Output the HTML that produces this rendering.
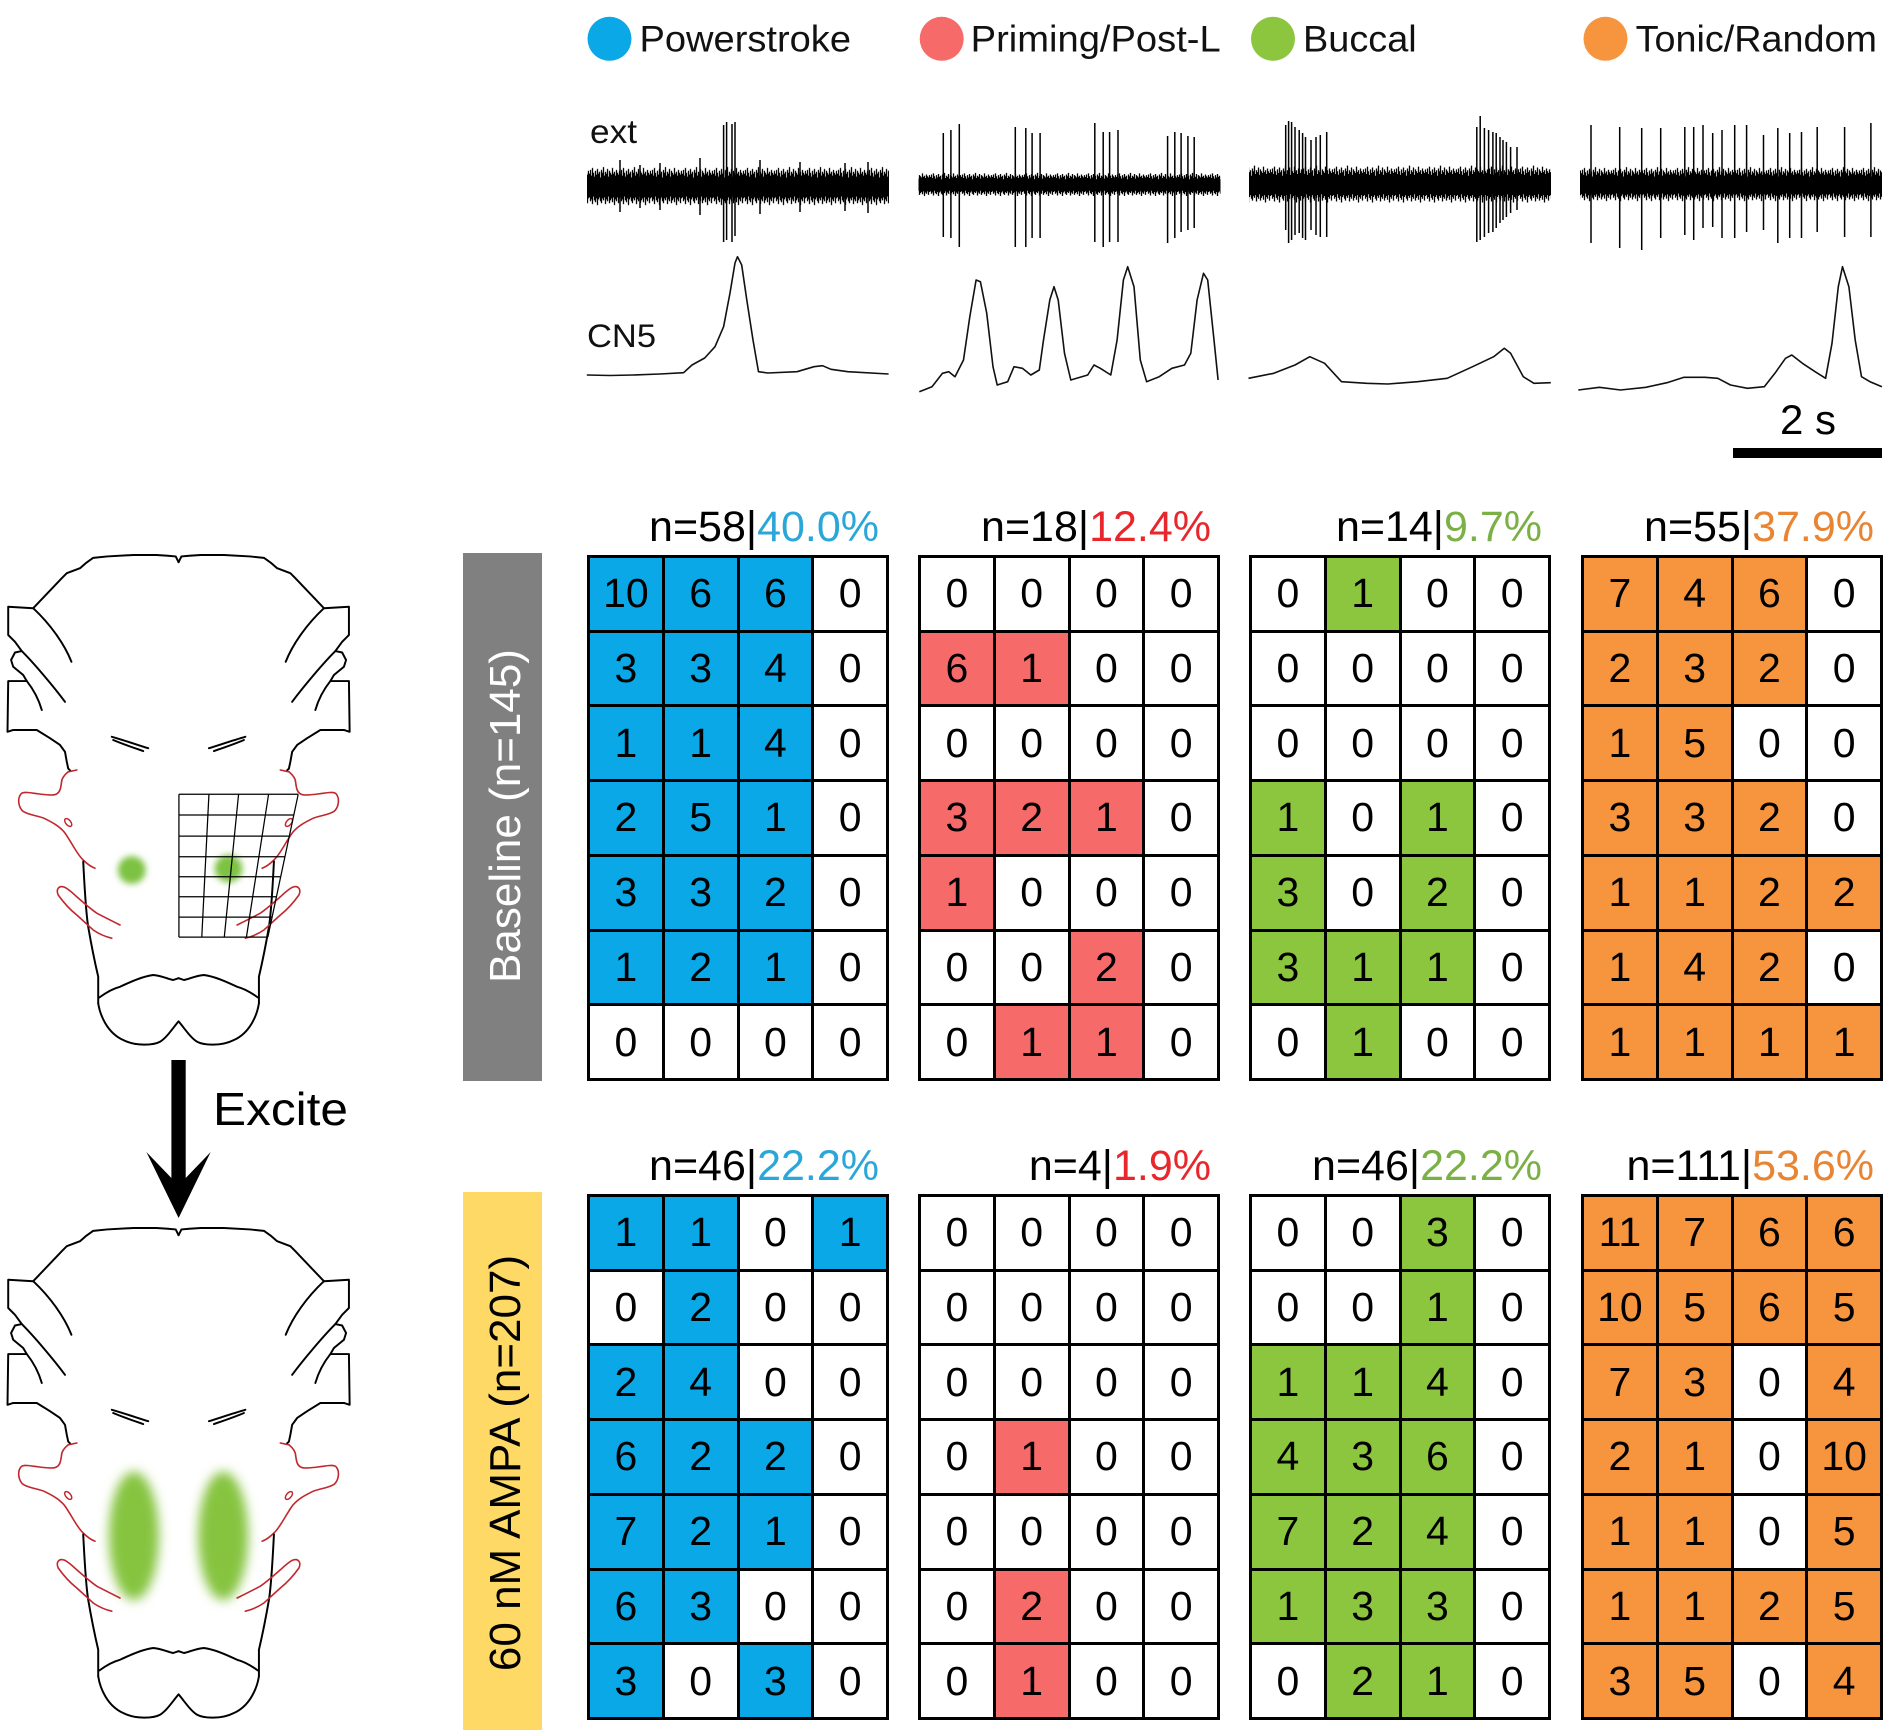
<!DOCTYPE html>
<html><head><meta charset="utf-8">
<style>
html,body{margin:0;padding:0;background:#fff}
body{width:1903px;height:1730px;position:relative;overflow:hidden;font-family:"Liberation Sans",Arial,sans-serif}
svg{position:absolute;left:0;top:0}
.t{position:absolute;width:302px;height:526px;background:#000;padding:3px;box-sizing:border-box;display:grid;grid-template-columns:repeat(4,1fr);grid-template-rows:repeat(7,1fr);gap:3px}
.t div{background:#fff;display:flex;align-items:center;justify-content:center;font:41px/1 "Liberation Sans",Arial,sans-serif;color:#000}
.t .B{background:#0aa8e6}.t .R{background:#f66a6a}.t .G{background:#8cc63f}.t .O{background:#f7953f}
</style></head><body>
<svg width="1903" height="1730" viewBox="0 0 1903 1730" xmlns="http://www.w3.org/2000/svg">
<defs>
<pattern id="nz" width="31" height="50" patternUnits="userSpaceOnUse">
<path d="M0.5 11V36M1.5 7V40M2.5 13V38M3.5 5V43M4.5 10V35M5.5 14V39M6.5 8V41M7.5 12V37M8.5 6V44M9.5 11V38M10.5 9V36M11.5 15V40M12.5 7V42M13.5 10V37M14.5 4V39M15.5 13V36M16.5 9V43M17.5 11V38M18.5 6V40M19.5 14V35M20.5 8V42M21.5 10V39M22.5 12V37M23.5 5V41M24.5 11V36M25.5 9V44M26.5 13V38M27.5 7V40M28.5 10V36M29.5 12V42M30.5 8V37" stroke="#000" stroke-width="1.3"/>
</pattern>
<filter id="bl1" x="-50%" y="-50%" width="200%" height="200%"><feGaussianBlur stdDeviation="9"/></filter>
<filter id="bl2" x="-50%" y="-50%" width="200%" height="200%"><feGaussianBlur stdDeviation="16"/></filter>
<g id="lh" fill="none" stroke-linejoin="round" stroke-linecap="round">
<path stroke="#000" stroke-width="5.5" d="M500 62 L492 46 L470 44 L438 42 L373 42 L300 46 L261 50 L240 65 L224 79 L187 93 L173 107 L93 191 L23 187 L23 266 L42 285 L61 311 L42 315 L31 336 L37 355 L65 378 L75 395 L23 395 L21 537 L37 532 L103 532 L140 555 L168 574 L182 593 L187 621 L191 640 L196 645"/>
<path stroke="#c0282d" stroke-width="4.5" d="M215 644 L191 649 C180 658 172 668 172 680 C170 695 168 705 160 710 C150 718 120 712 93 709 C75 706 62 705 58 712 C48 725 52 750 65 760 C85 772 110 772 125 780 C145 790 165 800 180 818 C200 845 215 880 233 896 C245 908 255 915 266 919"/>
<path stroke="#000" stroke-width="5.5" d="M233 900 C236 960 240 1040 247 1083 C255 1130 265 1180 275 1223 L275 1297"/>
<path stroke="#000" stroke-width="5.5" d="M275 1297 C280 1330 300 1380 345 1400 C380 1418 430 1415 448 1405 C465 1395 480 1372 499 1349 L500 1348"/>
<path stroke="#000" stroke-width="5.5" d="M278 1281 C300 1265 320 1255 336 1251 C370 1235 400 1222 429 1218 C455 1220 470 1230 485 1232 L500 1227"/>
<path stroke="#c0282d" stroke-width="4.5" d="M336 1078 C310 1065 290 1055 271 1045 C250 1030 230 1012 215 999 C200 985 185 972 177 971 C165 968 156 978 163 994 C180 1018 200 1038 215 1050 C235 1068 250 1082 261 1092 C280 1105 300 1112 313 1115"/>
<ellipse cx="191" cy="791" rx="7" ry="13" transform="rotate(-40 191 791)" stroke="#c0282d" stroke-width="4"/>
<path stroke="#000" stroke-width="5.5" d="M313 551 C345 560 380 572 415 583 M317 560 C345 572 375 582 401 591"/>
<path stroke="#000" stroke-width="5.5" d="M93 191 C140 235 180 290 200 341 M61 311 C95 345 150 410 182 453 M75 395 C95 420 108 445 117 476"/>
</g>
<g id="brain"><use href="#lh"/><use href="#lh" transform="translate(1000,0) scale(-1,1)"/></g>
</defs>

<!-- Legend -->
<circle cx="609.5" cy="38.8" r="22" fill="#0aa8e6"/>
<circle cx="941.7" cy="38.8" r="22" fill="#f66a6a"/>
<circle cx="1273" cy="38.8" r="22" fill="#8cc63f"/>
<circle cx="1605.5" cy="38.8" r="22" fill="#f7953f"/>
<g font-family="Liberation Sans, Arial, sans-serif" font-size="37" fill="#111">
<text x="639.5" y="51.7" textLength="211.5" lengthAdjust="spacingAndGlyphs">Powerstroke</text>
<text x="970.7" y="51.7" textLength="250" lengthAdjust="spacingAndGlyphs">Priming/Post-L</text>
<text x="1303" y="51.7" textLength="113.7" lengthAdjust="spacingAndGlyphs">Buccal</text>
<text x="1635.6" y="51.7" textLength="241.4" lengthAdjust="spacingAndGlyphs">Tonic/Random</text>
</g>

<!-- trace labels -->
<g font-family="Liberation Sans, Arial, sans-serif" fill="#111">
<text x="590" y="143" font-size="33" textLength="47" lengthAdjust="spacingAndGlyphs">ext</text>
<text x="587" y="347" font-size="32" textLength="69" lengthAdjust="spacingAndGlyphs">CN5</text>
</g>

<!-- ext bands -->
<g transform="translate(0,187) scale(1,0.95) translate(0,-25)"><rect x="587" y="0" width="302" height="50" fill="url(#nz)"/></g>
<g transform="translate(0,185) scale(1,0.58) translate(0,-25)"><rect x="918.5" y="0" width="302" height="50" fill="url(#nz)"/></g>
<g transform="translate(0,185) scale(1,0.92) translate(0,-25)"><rect x="1249" y="0" width="302" height="50" fill="url(#nz)"/></g>
<g transform="translate(0,185) scale(1,0.85) translate(0,-25)"><rect x="1580" y="0" width="302" height="50" fill="url(#nz)"/></g>

<!-- spikes -->
<path fill="none" stroke="#000" stroke-width="1.5" d="
M723.6 125V242M726.6 122V240M732 124V242M735 122V236
M620 160V212M660 163V210M700 158V215M760 160V214M800 162V212M845 163V211M640 165V208M868 162V213
M943.3 133V237M950.9 130V238M959.3 124V247M1015.3 127V247M1025.8 128V247M1032.1 133V238M1040.1 133V238
M1094.8 123V242M1103.2 132V247M1109.6 132V242M1118 130V242M1167.6 136V243M1174.8 132V238M1181.1 133V232M1187.9 136V230M1194.2 137V228
M1285.7 125V230M1288.6 121V243M1291.6 122V240M1295 127V235M1299.2 130V233M1302.6 133V238M1305.5 137V240M1311 140V230M1316 137V235M1320.3 135V237M1326.7 132V237
M1476.8 127V242M1480.2 116V240M1484.4 128V237M1488.6 130V233M1492.9 132V232M1496.2 133V228M1500 137V223M1503 140V220M1506.4 142V217M1510.6 147V213M1517 147V210
M1591 125V243M1619.7 127V248M1641.7 128V250M1660.7 128V238M1684.8 127V235M1693.7 127V240M1703 125V228M1712.7 133V227M1722 130V238M1734.7 125V238M1746.6 125V232M1763.5 135V230M1777.8 128V243M1789.7 133V238M1801.5 132V238M1817.2 127V232M1844.6 127V237M1870.9 123V237"/>

<!-- CN5 traces -->
<g fill="none" stroke="#111" stroke-width="1.6" stroke-linejoin="round">
<polyline points="586.8,375 610,375.5 633,375 660,374 683.6,372.7 692,365 704.7,358 715,346.7 723.6,326.7 730,293 735,263 737.5,256.7 741.7,265 746.8,300 753,340 758.5,371.7 767.8,373 797,371.7 814,366.7 822.5,365.7 831,369.3 847.8,371.7 888.6,374"/>
<polyline points="919.3,391.7 932,386.7 942.5,373.3 948.8,371.7 955,376.7 963.5,360 969.8,316.7 976.1,280 980.4,281.7 986.7,313 993,366.7 997.2,385 1007.7,381.7 1014,366.7 1022.4,368.3 1030.8,375 1039.3,370 1043.5,340 1049.8,300 1054,286.7 1058.2,300 1064.5,353.3 1070.8,380 1087.7,375 1094,365 1100.3,368.3 1110.8,375 1117.1,340 1123.4,280 1127.7,266.7 1134,286.7 1140.3,360 1146.6,381.7 1159.2,376.7 1171.9,368.3 1184.5,365 1190.8,353.3 1197.1,300 1203.5,273.3 1207.7,280 1214,340 1218.1,380"/>
<polyline points="1248.5,378.3 1273.8,373.3 1295,365 1309.8,356.7 1324.6,363.3 1341.5,381.7 1366.8,383.3 1388,384 1417.6,381.7 1447.2,378.3 1472.6,366.7 1493.7,356.7 1504.3,348.3 1510.6,353.3 1523.3,376.7 1533.9,383.3 1550.8,382.7"/>
<polyline points="1578.3,390 1599.4,387.3 1620.5,390 1645.9,387.3 1667,382.7 1684,377.3 1705,377.3 1717.8,378.3 1730.5,385 1747.4,388.3 1764.3,386.7 1774.9,373.3 1785.5,358.3 1791.8,355 1802.4,363.3 1815.1,371.7 1825.6,378.3 1832,343.3 1838.3,286.7 1842.5,266.7 1848.9,286.7 1855.2,340 1861.5,376.7 1870,381.7 1881.9,386.7"/>
</g>

<!-- scale bar -->
<rect x="1733" y="448" width="149" height="10" fill="#000"/>
<text x="1808" y="434" font-family="Liberation Sans, Arial, sans-serif" font-size="42" text-anchor="middle" fill="#000">2 s</text>

<!-- side bars -->
<rect x="463" y="553" width="79" height="528" fill="#808080"/>
<text transform="translate(520,816) rotate(-90)" font-family="Liberation Sans, Arial, sans-serif" font-size="44" text-anchor="middle" fill="#fff">Baseline (n=145)</text>
<rect x="463" y="1192" width="79" height="538" fill="#ffd966"/>
<text transform="translate(520,1463) rotate(-90)" font-family="Liberation Sans, Arial, sans-serif" font-size="44" text-anchor="middle" fill="#000">60 nM AMPA (n=207)</text>

<!-- headers -->
<g font-family="Liberation Sans, Arial, sans-serif" font-size="43" text-anchor="end" fill="#000">
<text x="879" y="541">n=58|<tspan fill="#2ba6d9">40.0%</tspan></text>
<text x="1211" y="541">n=18|<tspan fill="#e8262c">12.4%</tspan></text>
<text x="1542" y="541">n=14|<tspan fill="#7bb045">9.7%</tspan></text>
<text x="1874" y="541">n=55|<tspan fill="#e88432">37.9%</tspan></text>
<text x="879" y="1180">n=46|<tspan fill="#2ba6d9">22.2%</tspan></text>
<text x="1211" y="1180">n=4|<tspan fill="#e8262c">1.9%</tspan></text>
<text x="1542" y="1180">n=46|<tspan fill="#7bb045">22.2%</tspan></text>
<text x="1874" y="1180">n=111|<tspan fill="#e88432">53.6%</tspan></text>
</g>

<!-- top brain -->
<g transform="translate(0,540) scale(0.35714)">
<circle cx="369" cy="924" r="39" fill="#7dc242" filter="url(#bl1)"/>
<circle cx="640" cy="920" r="39" fill="#7dc242" filter="url(#bl1)"/>
<use href="#brain"/>
<path fill="none" stroke="#000" stroke-width="3.5" d="M501 712 H835 M501 770 H823 M501 829 H811 M501 887 H799 M501 943 H787 M501 999 H775 M501 1056 H762 M501 1112 H750 M501 712 V1112 M585 712 L565 1112 M668 712 L628 1112 M752 712 L690 1112 M835 712 L750 1112"/>
</g>

<!-- arrow -->
<polygon points="171.4,1060 185.7,1060 185.7,1178 210.7,1152 178.6,1218 146.4,1152 171.4,1178" fill="#000"/>
<text x="213" y="1125" font-family="Liberation Sans, Arial, sans-serif" font-size="46" textLength="135" lengthAdjust="spacingAndGlyphs" fill="#000">Excite</text>

<!-- bottom brain -->
<g transform="translate(0,1213) scale(0.35714)">
<ellipse cx="375" cy="904" rx="70" ry="180" fill="#86c440" filter="url(#bl2)"/>
<ellipse cx="625" cy="904" rx="70" ry="180" fill="#86c440" filter="url(#bl2)"/>
<use href="#brain"/>
</g>
</svg>

<!-- Baseline tables -->
<div class="t" style="left:587px;top:555px">
<div class="B">10</div><div class="B">6</div><div class="B">6</div><div>0</div>
<div class="B">3</div><div class="B">3</div><div class="B">4</div><div>0</div>
<div class="B">1</div><div class="B">1</div><div class="B">4</div><div>0</div>
<div class="B">2</div><div class="B">5</div><div class="B">1</div><div>0</div>
<div class="B">3</div><div class="B">3</div><div class="B">2</div><div>0</div>
<div class="B">1</div><div class="B">2</div><div class="B">1</div><div>0</div>
<div>0</div><div>0</div><div>0</div><div>0</div>
</div>
<div class="t" style="left:918px;top:555px">
<div>0</div><div>0</div><div>0</div><div>0</div>
<div class="R">6</div><div class="R">1</div><div>0</div><div>0</div>
<div>0</div><div>0</div><div>0</div><div>0</div>
<div class="R">3</div><div class="R">2</div><div class="R">1</div><div>0</div>
<div class="R">1</div><div>0</div><div>0</div><div>0</div>
<div>0</div><div>0</div><div class="R">2</div><div>0</div>
<div>0</div><div class="R">1</div><div class="R">1</div><div>0</div>
</div>
<div class="t" style="left:1249px;top:555px">
<div>0</div><div class="G">1</div><div>0</div><div>0</div>
<div>0</div><div>0</div><div>0</div><div>0</div>
<div>0</div><div>0</div><div>0</div><div>0</div>
<div class="G">1</div><div>0</div><div class="G">1</div><div>0</div>
<div class="G">3</div><div>0</div><div class="G">2</div><div>0</div>
<div class="G">3</div><div class="G">1</div><div class="G">1</div><div>0</div>
<div>0</div><div class="G">1</div><div>0</div><div>0</div>
</div>
<div class="t" style="left:1581px;top:555px">
<div class="O">7</div><div class="O">4</div><div class="O">6</div><div>0</div>
<div class="O">2</div><div class="O">3</div><div class="O">2</div><div>0</div>
<div class="O">1</div><div class="O">5</div><div>0</div><div>0</div>
<div class="O">3</div><div class="O">3</div><div class="O">2</div><div>0</div>
<div class="O">1</div><div class="O">1</div><div class="O">2</div><div class="O">2</div>
<div class="O">1</div><div class="O">4</div><div class="O">2</div><div>0</div>
<div class="O">1</div><div class="O">1</div><div class="O">1</div><div class="O">1</div>
</div>

<!-- AMPA tables -->
<div class="t" style="left:587px;top:1194px">
<div class="B">1</div><div class="B">1</div><div>0</div><div class="B">1</div>
<div>0</div><div class="B">2</div><div>0</div><div>0</div>
<div class="B">2</div><div class="B">4</div><div>0</div><div>0</div>
<div class="B">6</div><div class="B">2</div><div class="B">2</div><div>0</div>
<div class="B">7</div><div class="B">2</div><div class="B">1</div><div>0</div>
<div class="B">6</div><div class="B">3</div><div>0</div><div>0</div>
<div class="B">3</div><div>0</div><div class="B">3</div><div>0</div>
</div>
<div class="t" style="left:918px;top:1194px">
<div>0</div><div>0</div><div>0</div><div>0</div>
<div>0</div><div>0</div><div>0</div><div>0</div>
<div>0</div><div>0</div><div>0</div><div>0</div>
<div>0</div><div class="R">1</div><div>0</div><div>0</div>
<div>0</div><div>0</div><div>0</div><div>0</div>
<div>0</div><div class="R">2</div><div>0</div><div>0</div>
<div>0</div><div class="R">1</div><div>0</div><div>0</div>
</div>
<div class="t" style="left:1249px;top:1194px">
<div>0</div><div>0</div><div class="G">3</div><div>0</div>
<div>0</div><div>0</div><div class="G">1</div><div>0</div>
<div class="G">1</div><div class="G">1</div><div class="G">4</div><div>0</div>
<div class="G">4</div><div class="G">3</div><div class="G">6</div><div>0</div>
<div class="G">7</div><div class="G">2</div><div class="G">4</div><div>0</div>
<div class="G">1</div><div class="G">3</div><div class="G">3</div><div>0</div>
<div>0</div><div class="G">2</div><div class="G">1</div><div>0</div>
</div>
<div class="t" style="left:1581px;top:1194px">
<div class="O">11</div><div class="O">7</div><div class="O">6</div><div class="O">6</div>
<div class="O">10</div><div class="O">5</div><div class="O">6</div><div class="O">5</div>
<div class="O">7</div><div class="O">3</div><div>0</div><div class="O">4</div>
<div class="O">2</div><div class="O">1</div><div>0</div><div class="O">10</div>
<div class="O">1</div><div class="O">1</div><div>0</div><div class="O">5</div>
<div class="O">1</div><div class="O">1</div><div class="O">2</div><div class="O">5</div>
<div class="O">3</div><div class="O">5</div><div>0</div><div class="O">4</div>
</div>
</body></html>
